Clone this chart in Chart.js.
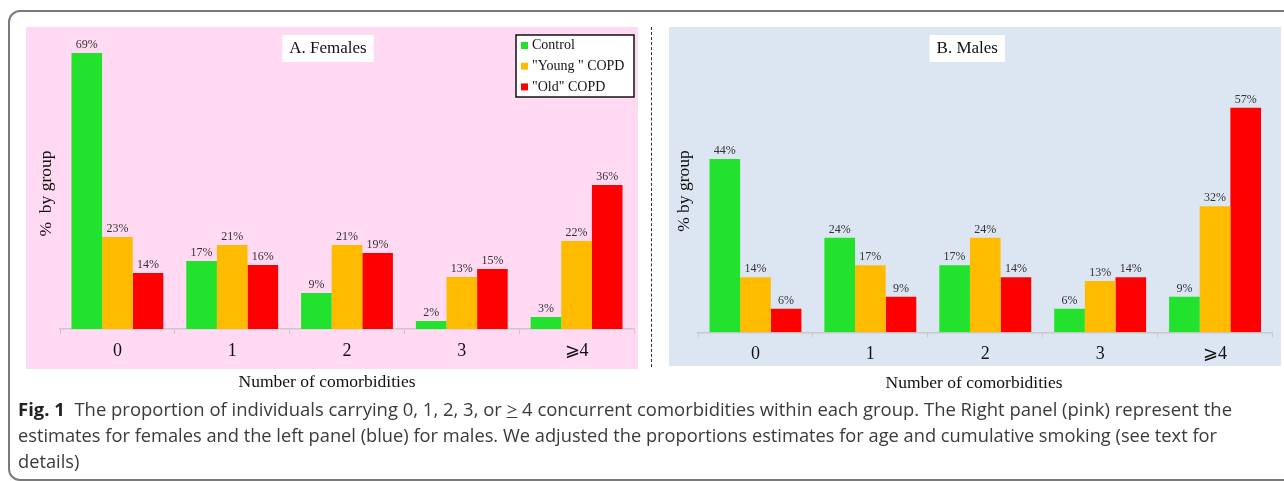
<!DOCTYPE html>
<html>
<head>
<meta charset="utf-8">
<script src="https://cdn.jsdelivr.net/npm/chart.js@4.4.1/dist/chart.umd.min.js"></script>
<style>
  html, body { margin: 0; padding: 0; background: #fff; width: 1284px; height: 481px; overflow: hidden; }
  body { position: relative; }
  #frame { position: absolute; left: 8px; top: 10px; width: 1300px; height: 471px; border: 2px solid #7a7a7a; border-radius: 12px; box-sizing: border-box; }
  #sep { position: absolute; left: 651px; top: 27px; height: 340px; border-left: 1px dashed #333; }
  canvas { position: absolute; }
  #caption { position: absolute; left: 18px; top: 396px; font-family: "Open Sans", sans-serif; font-size: 17.5px; color: #3a3a3a; line-height: 26px; }
  #caption .line { display: block; white-space: pre; width: max-content; transform-origin: 0 0; }
  #caption b { color: #222; }
</style>
</head>
<body>
<div id="frame"></div>
<div id="sep"></div>
<canvas id="females" width="612" height="370" style="left:26px; top:27px; width:612px; height:370px;"></canvas>
<canvas id="males" width="612" height="370" style="left:669px; top:27px; width:612px; height:370px;"></canvas>
<div id="caption">
  <span class="line" data-w="1214"><b>Fig. 1</b>  The proportion of individuals carrying 0, 1, 2, 3, or <u>&gt;</u> 4 concurrent comorbidities within each group. The Right panel (pink) represent the</span>
  <span class="line" data-w="1199">estimates for females and the left panel (blue) for males. We adjusted the proportions estimates for age and cumulative smoking (see text for</span>
  <span class="line">details)</span>
</div>
<script>
// Categories and series (percent of each group)
const categories = ['0', '1', '2', '3', '\u2A7E4'];
const seriesNames = ['Control', '"Young " COPD', '"Old" COPD'];
const seriesColors = ['#22E22E', '#FFBB00', '#FF0000'];

const femaleControl = [69, 17, 9, 2, 3];
const femaleYoung   = [23, 21, 21, 13, 22];
const femaleOld     = [14, 16, 19, 15, 36];

const maleControl = [44, 24, 17, 6, 9];
const maleYoung   = [14, 17, 24, 13, 32];
const maleOld     = [6, 9, 14, 14, 57];

const yMax = 75;
const SERIF = '"Liberation Serif", "DejaVu Serif", "Times New Roman", serif';

// Panel background, value labels, panel title, axis titles and legend box
const panelPlugin = {
  id: 'panel',
  beforeDraw(chart, args, o) {
    const ctx = chart.ctx;
    ctx.save();
    ctx.fillStyle = o.background;
    ctx.fillRect(0, 0, chart.width, o.backgroundHeight);
    ctx.restore();
  },
  afterDatasetsDraw(chart, args, o) {
    const ctx = chart.ctx;
    const ca = chart.chartArea;
    ctx.save();

    // value labels above bars
    ctx.font = '12px ' + SERIF;
    ctx.fillStyle = '#333';
    ctx.textAlign = 'center';
    ctx.textBaseline = 'alphabetic';
    chart.data.datasets.forEach((ds, i) => {
      chart.getDatasetMeta(i).data.forEach((bar, j) => {
        ctx.fillText(ds.data[j] + '%', bar.x, bar.y - 5);
      });
    });

    // panel title in a white box
    ctx.font = '17px ' + SERIF;
    const tw = ctx.measureText(o.title).width;
    const cx = (ca.left + ca.right) / 2 + o.titleShift;
    ctx.fillStyle = '#fff';
    ctx.fillRect(cx - tw / 2 - 7, 8, tw + 14, 27);
    ctx.fillStyle = '#111';
    ctx.textBaseline = 'middle';
    ctx.fillText(o.title, cx, 22);

    // axis titles
    ctx.font = '17.5px ' + SERIF;
    ctx.fillText(o.xTitle, o.xTitleX, o.xTitleY);
    ctx.save();
    ctx.translate(o.yTitleX, o.yTitleY);
    ctx.rotate(-Math.PI / 2);
    ctx.fillText(o.yTitle, 0, 0);
    ctx.restore();

    // legend
    if (o.legend) {
      const w = 118, h = 62, x0 = ca.right - w, y0 = 8;
      ctx.fillStyle = '#fff';
      ctx.fillRect(x0, y0, w, h);
      ctx.strokeStyle = '#111';
      ctx.lineWidth = 1.5;
      ctx.strokeRect(x0, y0, w, h);
      ctx.font = '14px ' + SERIF;
      ctx.textAlign = 'left';
      chart.data.datasets.forEach((ds, i) => {
        const yc = y0 + 10.5 + i * 20.7;
        ctx.fillStyle = ds.backgroundColor;
        ctx.fillRect(x0 + 5, yc - 3.5, 7, 7);
        ctx.fillStyle = '#111';
        ctx.fillText(ds.label, x0 + 16, yc);
      });
    }
    ctx.restore();
  }
};

function makeChart(id, values, layout) {
  return new Chart(document.getElementById(id), {
    type: 'bar',
    data: {
      labels: categories,
      datasets: values.map((v, i) => ({
        label: seriesNames[i],
        data: v,
        backgroundColor: seriesColors[i],
        borderWidth: 0,
        categoryPercentage: 0.8,
        barPercentage: 1.0
      }))
    },
    options: {
      responsive: false,
      animation: false,
      devicePixelRatio: 1,
      layout: { padding: layout.padding },
      plugins: {
        legend: { display: false },
        tooltip: { enabled: false },
        panel: layout.panel
      },
      scales: {
        x: {
          grid: { drawOnChartArea: false, drawTicks: true, tickLength: 5, color: '#c9c9c9', lineWidth: 1 },
          border: { color: '#c9c9c9', width: 1.5 },
          ticks: { font: { family: SERIF, size: 18 }, color: '#111', padding: 6 },
          afterFit(scale) { scale.height = 40; }
        },
        y: { display: false, min: 0, max: yMax }
      }
    },
    plugins: [panelPlugin]
  });
}

makeChart('females', [femaleControl, femaleYoung, femaleOld], {
  padding: { left: 34, right: 4, top: 2, bottom: 28 },
  panel: {
    background: '#FFDAF2', backgroundHeight: 342,
    title: 'A. Females', titleShift: -19,
    xTitle: 'Number of comorbidities', xTitleX: 301, xTitleY: 355,
    yTitle: '%  by group', yTitleX: 20, yTitleY: 166.5,
    legend: true
  }
});

makeChart('males', [maleControl, maleYoung, maleOld], {
  padding: { left: 29, right: 8.5, top: 10, bottom: 24.7 },
  panel: {
    background: '#DCE6F2', backgroundHeight: 339,
    title: 'B. Males', titleShift: -18,
    xTitle: 'Number of comorbidities', xTitleX: 305, xTitleY: 356,
    yTitle: '% by group', yTitleX: 15, yTitleY: 164,
    legend: false
  }
});

// Fit caption lines to the column width
(function fitCaption() {
  let lastScale = 1;
  document.querySelectorAll('#caption .line').forEach(el => {
    const w = el.getBoundingClientRect().width;
    let s = lastScale;
    if (el.dataset.w) s = parseFloat(el.dataset.w) / w;
    el.style.transform = 'scaleX(' + s + ')';
    lastScale = s;
  });
})();
</script>
</body>
</html>
